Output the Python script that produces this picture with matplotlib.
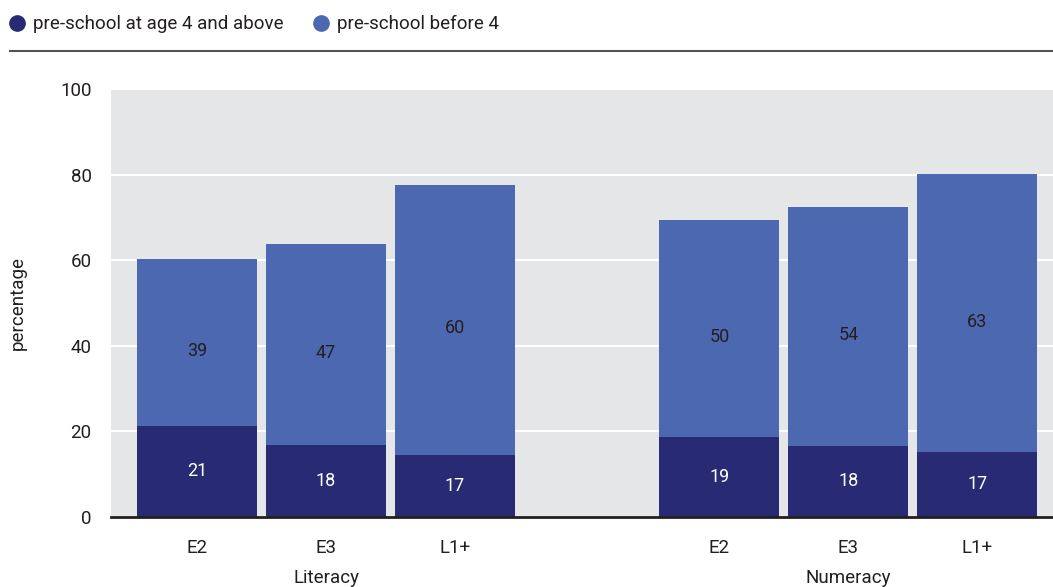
import matplotlib
matplotlib.use('Agg')
import matplotlib.pyplot as plt
from matplotlib.lines import Line2D

groups = ['Literacy', 'Numeracy']
levels = ['E2', 'E3', 'L1+']
series = ['pre-school at age 4 and above', 'pre-school before 4']

# bar heights
early_late = [21.3, 16.8, 14.5, 18.7, 16.6, 15.2]      # bottom segment
totals = [60.3, 63.8, 77.6, 69.4, 72.4, 80.1]           # top of stack
# printed value labels
late_labels = [21, 18, 17, 19, 18, 17]
early_labels = [39, 47, 60, 50, 54, 63]

DARK = '#282a73'
LIGHT = '#4b68b0'
BG = '#e5e6e8'
TXT = '#231f20'

plt.rcParams['font.family'] = ['Roboto', 'DejaVu Sans']

fig = plt.figure(figsize=(10.53, 5.87), dpi=100)
ax = fig.add_axes([0.1054, 0.1193, 0.8946, 0.7291])
ax.set_facecolor(BG)

x = [0, 1, 2, 4.05, 5.05, 6.05]
top = [t - b for t, b in zip(totals, early_late)]
w = 0.93
ax.bar(x, early_late, width=w, color=DARK, zorder=3)
ax.bar(x, top, bottom=early_late, width=w, color=LIGHT, zorder=3)

for xi, b, t, lb, lt in zip(x, early_late, top, late_labels, early_labels):
    ax.text(xi, b / 2, str(lb), ha='center', va='center', color='white', fontsize=13, zorder=4)
    ax.text(xi, b + t / 2 - 2, str(lt), ha='center', va='center', color=TXT, fontsize=13, zorder=4)

ax.set_xlim(-0.667, 6.636)
ax.set_ylim(0, 100)
ax.set_yticks([0, 20, 40, 60, 80, 100])
ax.yaxis.grid(True, color='white', linewidth=1.5, zorder=1)
ax.set_axisbelow(True)
for s in ax.spines.values():
    s.set_visible(False)
ax.axhline(0, color=TXT, linewidth=2, zorder=5, clip_on=False)
ax.tick_params(axis='y', length=0, pad=14, labelsize=13.5, labelcolor=TXT)
ax.set_xticks(x)
ax.set_xticklabels(levels * 2)
ax.tick_params(axis='x', length=0, pad=16, labelsize=13.5, labelcolor=TXT)
ax.set_ylabel('percentage', fontsize=13.5, color=TXT, labelpad=24)

for gi, g in enumerate(groups):
    cx = sum(x[gi * 3:gi * 3 + 3]) / 3
    ax.text(cx, -0.142, g, transform=ax.get_xaxis_transform(), ha='center', va='center',
            fontsize=13.5, color=TXT)

# legend row + rule
handles = [Line2D([], [], marker='o', linestyle='', markersize=11, color=c) for c in (DARK, LIGHT)]
fig.legend(handles, series, loc='center left', bbox_to_anchor=(-0.0085, 0.959), ncol=2, frameon=False,
           fontsize=13.5, handletextpad=0.35, columnspacing=1.5, handlelength=1.0, labelcolor=TXT)
fig.add_artist(Line2D([0.0095, 1.0], [0.913, 0.913], color='#555555', linewidth=1.5))

fig.savefig('out.png', dpi=100)
plt.close(fig)
